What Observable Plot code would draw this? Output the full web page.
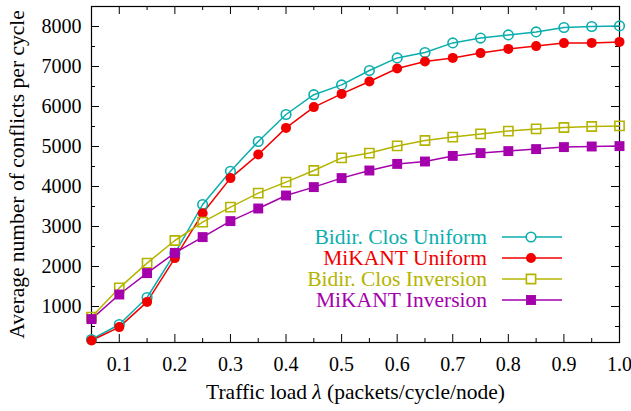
<!DOCTYPE html>
<html>
<head>
<meta charset="utf-8">
<script src="https://cdn.jsdelivr.net/npm/d3@7"></script>
<script src="https://cdn.jsdelivr.net/npm/@observablehq/plot@0.6"></script>
<style>
  html, body { margin: 0; padding: 0; background: #fff; }
  #chart { position: relative; width: 631px; height: 411px; }
  #chart svg, #chart svg text { font-family: "Liberation Serif", "Times New Roman", serif !important; }
  #legend { position: absolute; left: 0; top: 0; pointer-events: none; }
</style>
</head>
<body>
<div id="chart"></div>
<script>
// Traffic load λ (packets/cycle/node)
const loads = [0.05, 0.10, 0.15, 0.20, 0.25, 0.30, 0.35, 0.40, 0.45, 0.50,
               0.55, 0.60, 0.65, 0.70, 0.75, 0.80, 0.85, 0.90, 0.95, 1.00];

// Average number of conflicts per cycle
const closUniform   = [175, 550, 1225, 2330, 3550, 4380, 5125, 5800, 6295, 6540,
                       6900, 7215, 7350, 7590, 7710, 7790, 7865, 7975, 8000, 8015];
const mikantUniform = [150, 485, 1115, 2210, 3330, 4210, 4800, 5465, 5985, 6315,
                       6625, 6950, 7125, 7215, 7335, 7440, 7510, 7585, 7590, 7615];
const closInversion = [735, 1465, 2085, 2650, 3110, 3485, 3835, 4110, 4400, 4715,
                       4835, 5015, 5150, 5235, 5315, 5385, 5440, 5475, 5500, 5515];
const mikantInversion = [685, 1300, 1835, 2340, 2735, 3135, 3450, 3775, 3985, 4210,
                         4400, 4565, 4625, 4765, 4835, 4885, 4935, 4985, 5000, 5010];

const seriesNames = ["Bidir. Clos Uniform", "MiKANT Uniform", "Bidir. Clos Inversion", "MiKANT Inversion"];
const seriesValues = [closUniform, mikantUniform, closInversion, mikantInversion];
const seriesColors = ["#0aaeae", "#f20000", "#b4b400", "#a400ac"];
const seriesSymbols = ["circle", "circle", "square", "square"];
const seriesFilled = [false, true, false, true];

const xMajor = [0.1, 0.2, 0.3, 0.4, 0.5, 0.6, 0.7, 0.8, 0.9, 1.0];
const xMinor = [0.05, 0.15, 0.25, 0.35, 0.45, 0.55, 0.65, 0.75, 0.85, 0.95];
const yMajor = [1000, 2000, 3000, 4000, 5000, 6000, 7000, 8000];
const yMinor = [500, 1500, 2500, 3500, 4500, 5500, 6500, 7500];

const rows = seriesNames.flatMap((name, i) =>
  loads.map((x, j) => ({series: name, x, y: seriesValues[i][j]})));

const W = 631, H = 411;
const M = {left: 91, right: 12, top: 6, bottom: 69};
const frameW = W - M.left - M.right, frameH = H - M.top - M.bottom;
const major = 8, minor = 4;
const labelSize = 21.5;

const font = '"Liberation Serif", "Times New Roman", serif';

const marks = [
  Plot.frame({stroke: "#000", strokeWidth: 1.2}),
  // inward tick marks, mirrored on all four sides
  Plot.tickX(xMajor, {x: d => d, insetTop: frameH - major, stroke: "#000"}),
  Plot.tickX(xMajor, {x: d => d, insetBottom: frameH - major, stroke: "#000"}),
  Plot.tickX(xMinor, {x: d => d, insetTop: frameH - minor, stroke: "#000"}),
  Plot.tickX(xMinor, {x: d => d, insetBottom: frameH - minor, stroke: "#000"}),
  Plot.tickY(yMajor, {y: d => d, insetRight: frameW - major, stroke: "#000"}),
  Plot.tickY(yMajor, {y: d => d, insetLeft: frameW - major, stroke: "#000"}),
  Plot.tickY(yMinor, {y: d => d, insetRight: frameW - minor, stroke: "#000"}),
  Plot.tickY(yMinor, {y: d => d, insetLeft: frameW - minor, stroke: "#000"}),
  Plot.axisX(xMajor, {tickSize: 0, tickPadding: 14, tickFormat: d3.format(".1f"),
                      fontSize: 20, fontFamily: font, label: null}),
  Plot.axisY(yMajor, {tickSize: 0, tickPadding: 10, tickFormat: d => String(d),
                      fontSize: 20, fontFamily: font, label: null}),
  Plot.text(["Average number of conflicts per cycle"], {
    frameAnchor: "left", text: d => d, rotate: -90, dx: -74,
    textAnchor: "middle", lineAnchor: "middle",
    fontSize: labelSize, fontFamily: font, fill: "#000"
  }),
  Plot.text(["Traffic load λ (packets/cycle/node)"], {
    frameAnchor: "bottom", text: d => d, dy: 50,
    textAnchor: "middle", lineAnchor: "middle",
    fontSize: labelSize, fontFamily: font, fill: "#000"
  })
];

seriesNames.forEach((name, i) => {
  const data = rows.filter(d => d.series === name);
  marks.push(Plot.line(data, {x: "x", y: "y", stroke: seriesColors[i], strokeWidth: 1.5}));
});
seriesNames.forEach((name, i) => {
  const data = rows.filter(d => d.series === name);
  const sq = seriesSymbols[i] === "square";
  marks.push(Plot.dot(data, {
    x: "x", y: "y", symbol: seriesSymbols[i],
    r: sq ? (seriesFilled[i] ? 5.6 : 5.2) : (seriesFilled[i] ? 5 : 4.8),
    fill: seriesFilled[i] ? seriesColors[i] : "none",
    stroke: seriesColors[i], strokeWidth: seriesFilled[i] ? 0 : 1.6
  }));
});

const chart = Plot.plot({
  width: W, height: H,
  marginLeft: M.left, marginRight: M.right, marginTop: M.top, marginBottom: M.bottom,
  style: {fontFamily: font, fontSize: "20px", background: "#fff", color: "#000", overflow: "visible"},
  x: {domain: [0.05, 1.0], axis: null},
  y: {domain: [100, 8500], axis: null},
  marks
});

document.getElementById("chart").appendChild(chart);

// set λ in italic, as a math symbol
d3.select(chart).selectAll("text").each(function () {
  const t = d3.select(this);
  const tspan = t.select("tspan");
  const node = tspan.empty() ? t : tspan;
  const s = node.text();
  if (s.includes("λ")) {
    const [a, b] = s.split("λ");
    node.text(null);
    node.append("tspan").text(a);
    node.append("tspan").attr("font-style", "italic").text("λ");
    node.append("tspan").text(b);
  }
});

// key, inside the plot area on the right
const legend = d3.select("#chart").append("svg")
  .attr("id", "legend").attr("width", W).attr("height", H);
const rowY0 = 237, rowStep = 21;
seriesNames.forEach((name, i) => {
  const y = rowY0 + i * rowStep;
  const g = legend.append("g");
  g.append("text").attr("x", 487).attr("y", y).attr("dy", "0.32em")
    .attr("text-anchor", "end").attr("font-family", font).attr("font-size", labelSize)
    .attr("fill", seriesColors[i]).text(name);
  g.append("line").attr("x1", 502).attr("x2", 562).attr("y1", y).attr("y2", y)
    .attr("stroke", seriesColors[i]).attr("stroke-width", 1.5);
  const sym = seriesSymbols[i] === "square" ? d3.symbolSquare : d3.symbolCircle;
  const r = seriesSymbols[i] === "square" ? (seriesFilled[i] ? 5.6 : 5.2) : (seriesFilled[i] ? 5 : 4.8);
  g.append("path").attr("transform", `translate(531,${y})`)
    .attr("d", d3.symbol(sym, Math.PI * r * r)())
    .attr("fill", seriesFilled[i] ? seriesColors[i] : "#fff")
    .attr("stroke", seriesFilled[i] ? "none" : seriesColors[i])
    .attr("stroke-width", 1.6);
});
</script>
</body>
</html>
